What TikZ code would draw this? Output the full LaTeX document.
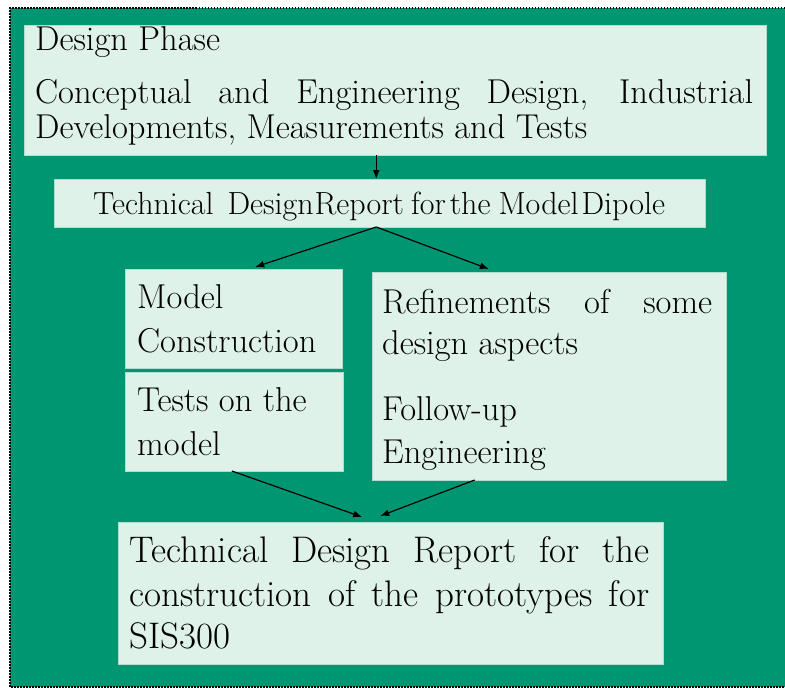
\documentclass[tikz,border=0pt]{standalone}
\usetikzlibrary{calc,arrows.meta}
\definecolor{bggreen}{RGB}{0,150,114}
\definecolor{boxfill}{RGB}{222,242,234}
\definecolor{boxedge}{RGB}{175,222,204}
\begin{document}
\begin{tikzpicture}[x=1pt,y=-1pt,
  box/.style={draw=boxedge,line width=0.8pt,fill=boxfill,anchor=north west,inner sep=0pt,outer sep=0pt},
  txt/.style={anchor=base west,inner sep=0pt,font=\fontsize{34.5}{40}\selectfont},
  txtb/.style={anchor=base west,inner sep=0pt,font=\fontsize{37}{42}\selectfont},
  txts/.style={anchor=base west,inner sep=0pt,font=\fontsize{32}{36}\selectfont},
  arr/.style={line width=1.2pt,-{Latex[length=9pt,width=7pt]}}]
\useasboundingbox (0,0) rectangle (785,688);
\fill[white] (0,0) rectangle (785,688);
\fill[bggreen] (10,8) rectangle (785,687);
\draw[line width=1.5pt,dash pattern=on 1.5pt off 1.5pt] (785,8) -- (10,8) -- (10,687) -- (785,687);
% boxes
\node[box,minimum width=742pt,minimum height=130pt] (b1) at (24,25) {};
\node[box,minimum width=651pt,minimum height=48pt] (b2) at (54,179) {};
\node[box,minimum width=217pt,minimum height=99pt] (b3) at (125,269) {};
\node[box,minimum width=218pt,minimum height=99pt] (b4) at (125,372) {};
\node[box,minimum width=354pt,minimum height=208pt] (b5) at (372,272) {};
\node[box,minimum width=545pt,minimum height=142pt] (b6) at (118,522) {};
% texts
\node[txt] (t1a) at (35,50) {Design Phase};
\node[txt] (t1b) at (35,103) {\makebox[718pt][s]{Conceptual and Engineering Design, Industrial}};
\node[txt] (t1c) at (35,138) {Developments, Measurements and Tests};
\node[txts] (t2) at (93,214) {Technical\hspace{14pt}Design\hspace{1pt}Report\hspace{7pt}for\hspace{4pt}the\hspace{8pt}Model\hspace{3pt}Dipole};
\node[txt] (t3a) at (137,308) {Model};
\node[txt] (t3b) at (137,352) {Construction};
\node[txt] (t4a) at (137,411) {Tests on the};
\node[txt] (t4b) at (137,455) {model};
\node[txt] (t5a) at (382,313) {\makebox[330pt][s]{Refinements of some}};
\node[txt] (t5b) at (382,354) {design aspects};
\node[txt] (t5c) at (382,420) {Follow-up};
\node[txt] (t5d) at (382,463) {Engineering};
\node[txtb] (t6a) at (129,562) {\makebox[520pt][s]{Technical Design Report for the}};
\node[txtb] (t6b) at (129,606) {\makebox[520pt][s]{construction of the prototypes for}};
\node[txtb] (t6c) at (129,648) {SIS300};
% connectors
\coordinate (n2) at ($(b2.north west)!0.495!(b2.north east)$);
\coordinate (s2) at ($(b2.south west)!0.495!(b2.south east)$);
\draw[arr] (b1.south -| n2) -- (n2);
\draw[arr] (s2) -- ($(b3.north west)!0.6!(b3.north east)+(0,-2)$);
\draw[arr] (s2) -- ($(b5.north west)!0.33!(b5.north east)+(0,-3)$);
\draw[arr] ($(b4.south west)!0.49!(b4.south east)$) -- ($(b6.north west)!0.448!(b6.north east)+(0,-5)$);
\draw[arr] ($(b5.south west)!0.29!(b5.south east)$) -- ($(b6.north west)!0.481!(b6.north east)+(0,-6)$);
\end{tikzpicture}
\end{document}
